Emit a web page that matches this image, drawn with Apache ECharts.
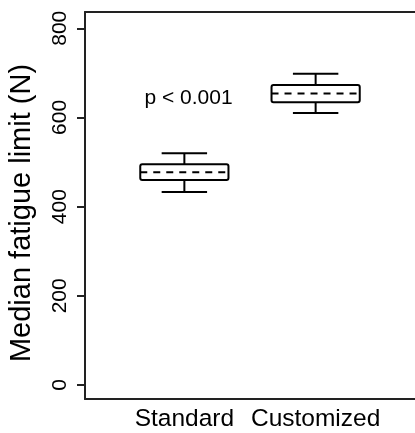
<!DOCTYPE html>
<html>
<head>
<meta charset="utf-8">
<script src="https://cdn.jsdelivr.net/npm/echarts@6/dist/echarts.min.js"></script>
<style>html,body{margin:0;padding:0;background:#fff;}#c{width:415px;height:433px;}</style>
</head>
<body>
<div id="c"></div>
<script>
const categories = ['Standard', 'Customized'];
const lowerWhisker = [433, 610];
const q1 = [460, 634];
const median = [477, 654];
const q3 = [495, 673];
const upperWhisker = [520, 698];
const yTicks = [0, 200, 400, 600, 800];
const yTitle = 'Median fatigue limit (N)';
const pText = 'p < 0.001';

const FONT = 'Liberation Sans, Arial, Helvetica, sans-serif';
const data = categories.map((c, i) => [i + 1, lowerWhisker[i], q1[i], median[i], q3[i], upperWhisker[i]]);
const frameLine = {show: true, onZero: false, lineStyle: {color: '#222', width: 2}};

const chart = echarts.init(document.getElementById('c'), null, {renderer: 'canvas'});
chart.setOption({
  animation: false,
  backgroundColor: '#fff',
  grid: {left: 85, right: -4.4, top: 12, bottom: 34, show: false, containLabel: false},
  xAxis: [{
    type: 'value', min: 0.243, max: 2.757, position: 'bottom',
    axisLine: frameLine, splitLine: {show: false},
    axisTick: {show: false},
    axisLabel: {show: true, customValues: [1, 2], formatter: v => categories[Math.round(v) - 1],
      fontSize: 24.5, color: '#000', fontFamily: FONT, margin: 8}
  }, {
    type: 'value', min: 0.243, max: 2.757, position: 'top',
    axisLine: frameLine, splitLine: {show: false}, axisTick: {show: false}, axisLabel: {show: false}
  }],
  yAxis: {
    type: 'value', min: -31.4, max: 836.5,
    axisLine: frameLine, splitLine: {show: false},
    axisTick: {show: true, customValues: yTicks, length: 8, lineStyle: {color: '#222', width: 2}},
    axisLabel: {show: true, customValues: yTicks, rotate: 90, fontSize: 21, color: '#000', fontFamily: FONT, margin: 14}
  },
  graphic: [
    {type: 'text', x: 22, y: 213, rotation: Math.PI / 2,
     style: {text: yTitle, font: '29px ' + FONT, fill: '#000', align: 'center', verticalAlign: 'middle'}},
    {type: 'text', x: 188.5, y: 98,
     style: {text: pText, font: '21px ' + FONT, fill: '#000', align: 'center', verticalAlign: 'middle'}}
  ],
  series: [{
    type: 'custom',
    data: data,
    renderItem: function (params, api) {
      const x = api.value(0);
      const hw = 0.336, cw = 0.173;
      const p = (xx, yy) => api.coord([xx, yy]);
      const lo = api.value(1), a = api.value(2), m = api.value(3), b = api.value(4), hi = api.value(5);
      const ls = {stroke: '#000', lineWidth: 2, fill: null};
      const tl = p(x - hw, b), br = p(x + hw, a);
      return {type: 'group', children: [
        {type: 'rect', shape: {x: tl[0], y: tl[1], width: br[0] - tl[0], height: br[1] - tl[1], r: 2}, style: {stroke: '#000', lineWidth: 2, fill: 'none'}},
        {type: 'line', shape: {x1: p(x - hw, m)[0], y1: p(x, m)[1], x2: p(x + hw, m)[0], y2: p(x, m)[1]}, style: {stroke: '#000', lineWidth: 2, lineDash: [7, 6]}},
        {type: 'line', shape: {x1: p(x, b)[0], y1: p(x, b)[1], x2: p(x, hi)[0], y2: p(x, hi)[1]}, style: ls},
        {type: 'line', shape: {x1: p(x, a)[0], y1: p(x, a)[1], x2: p(x, lo)[0], y2: p(x, lo)[1]}, style: ls},
        {type: 'line', shape: {x1: p(x - cw, hi)[0], y1: p(x, hi)[1], x2: p(x + cw, hi)[0], y2: p(x, hi)[1]}, style: ls},
        {type: 'line', shape: {x1: p(x - cw, lo)[0], y1: p(x, lo)[1], x2: p(x + cw, lo)[0], y2: p(x, lo)[1]}, style: ls}
      ]};
    }
  }]
});
</script>
</body>
</html>
